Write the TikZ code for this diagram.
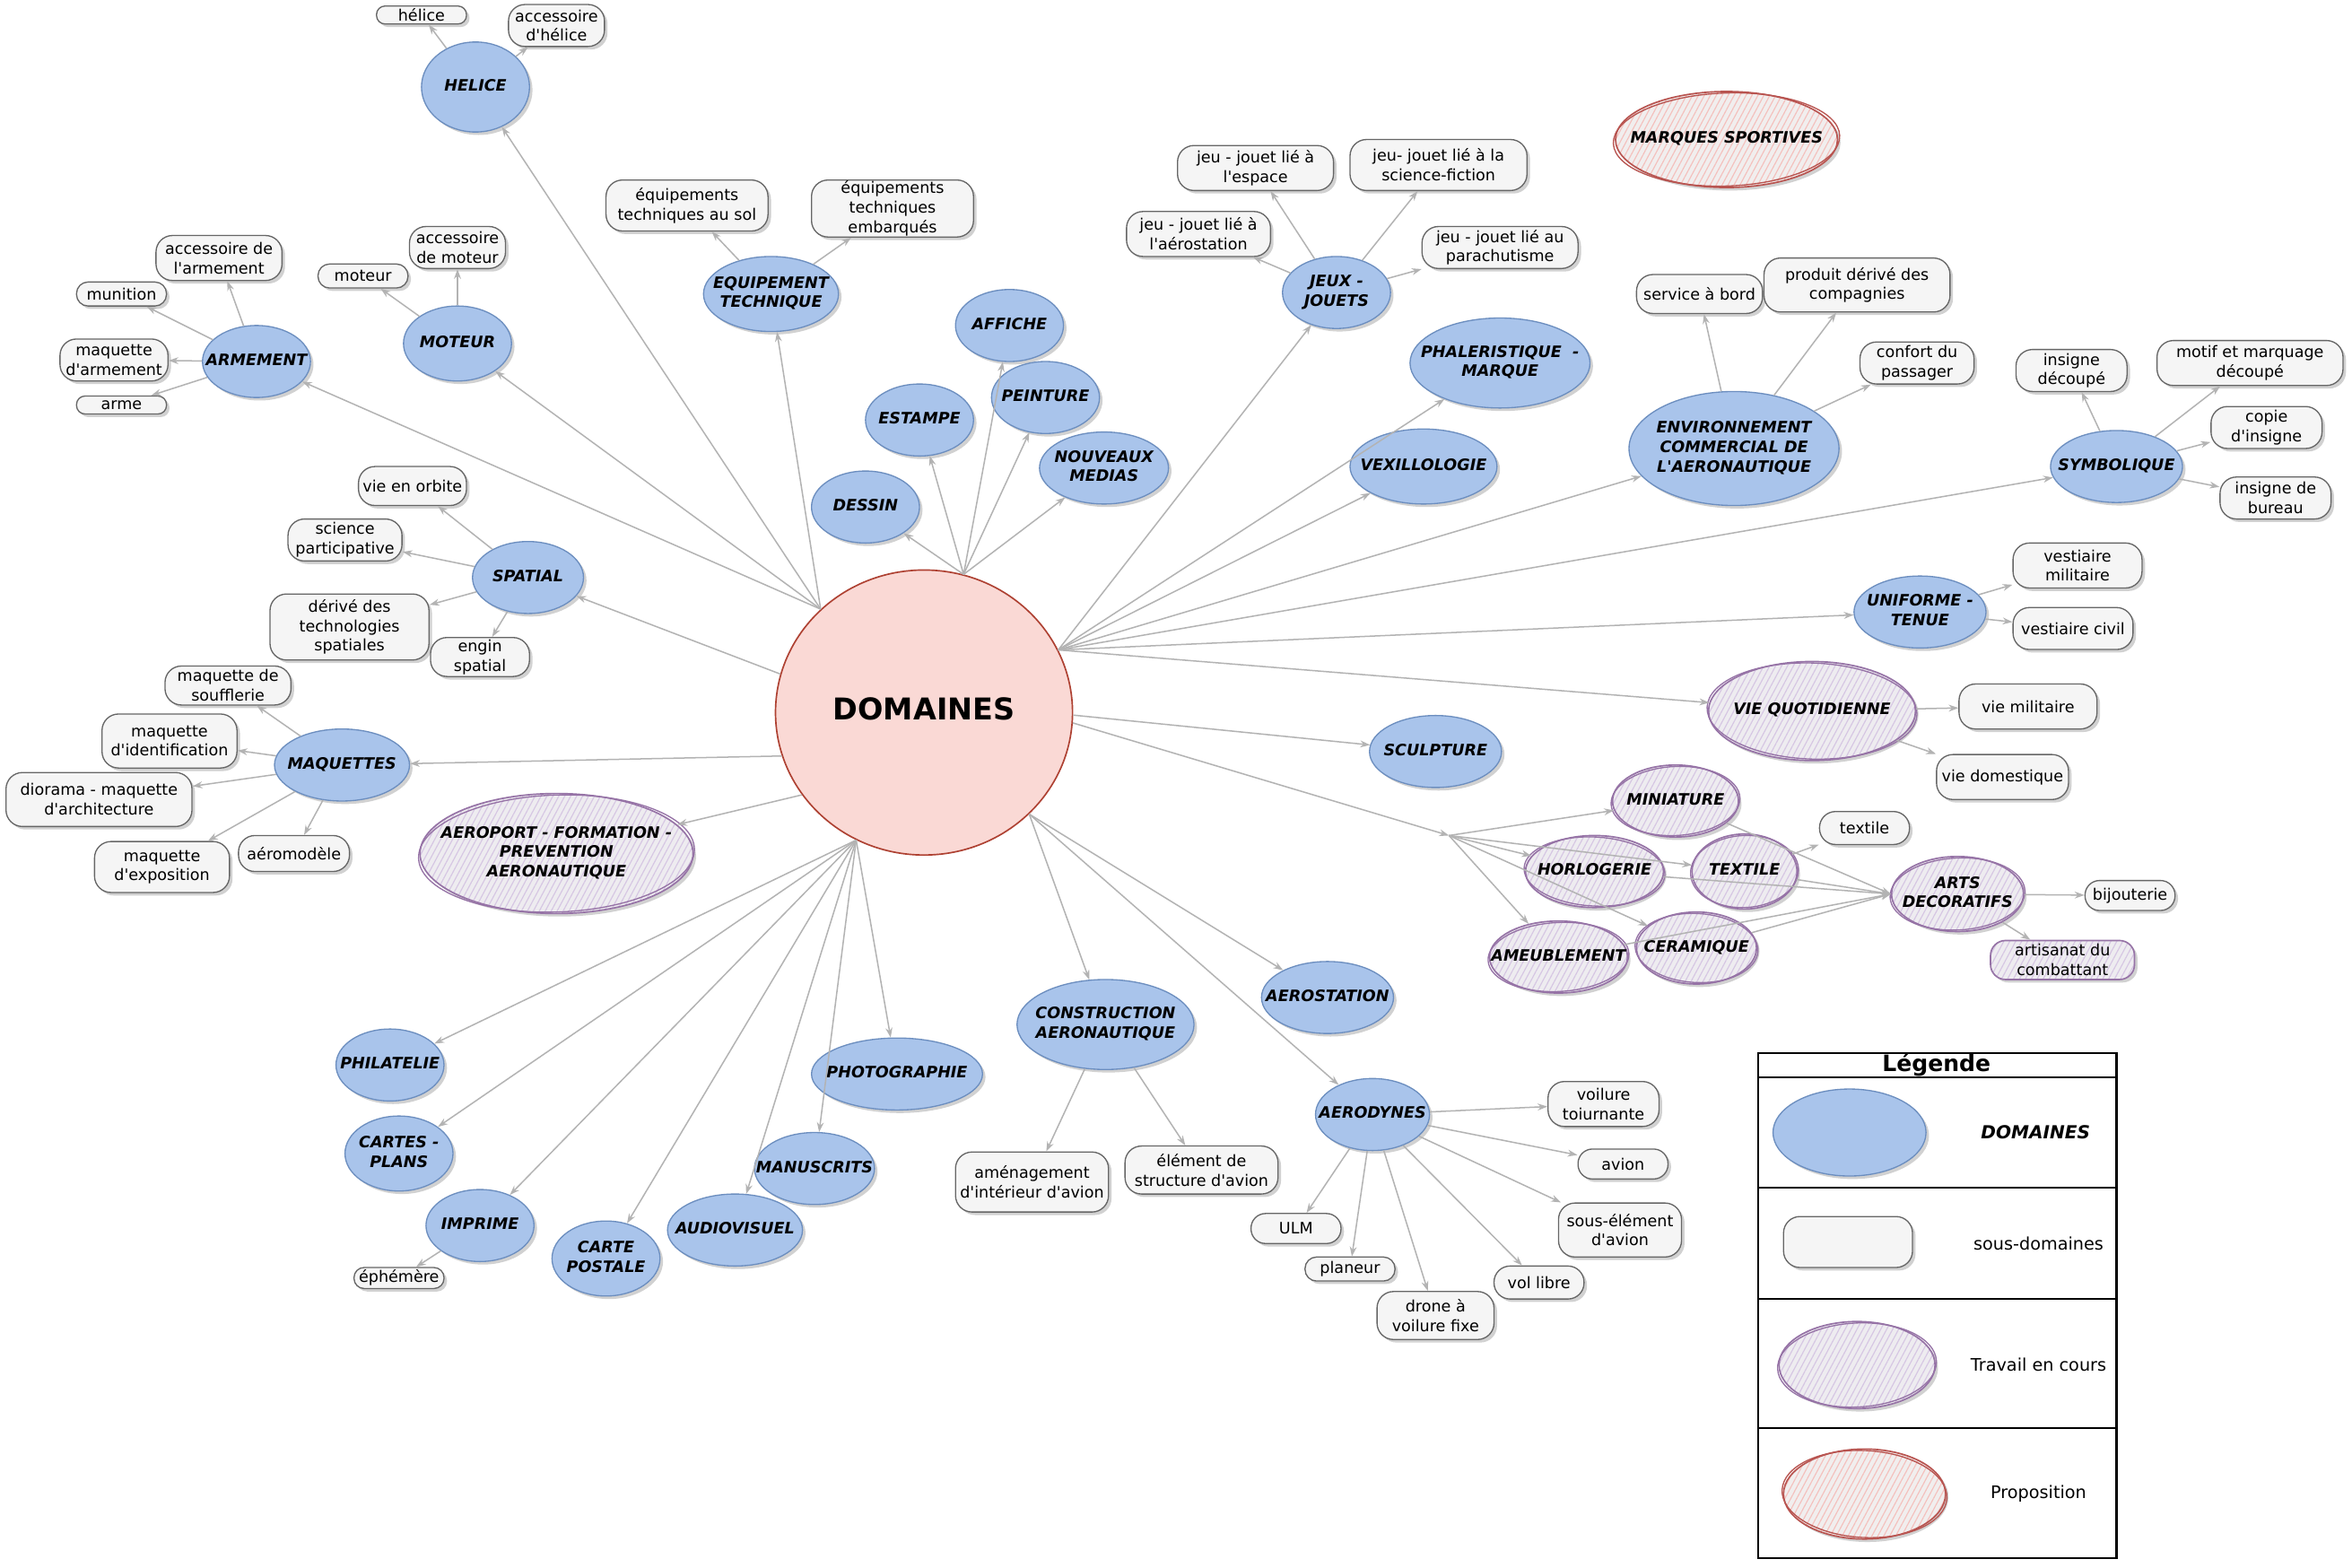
\documentclass[tikz,border=0pt]{standalone}
\usepackage{fontspec}
\setmainfont{DejaVu Sans}[Ligatures=TeXOff]
\usetikzlibrary{shapes.geometric, arrows.meta, shadows, patterns.meta}
\definecolor{domfill}{HTML}{A9C4EB}
\definecolor{domline}{HTML}{6C8EBF}
\definecolor{subfill}{HTML}{F5F5F5}
\definecolor{subline}{HTML}{666666}
\definecolor{cfill}{HTML}{FAD9D5}
\definecolor{cline}{HTML}{AE4132}
\definecolor{wipline}{HTML}{9673A6}
\definecolor{wiphatch}{HTML}{D6C6E3}
\definecolor{wipbg}{HTML}{EEECF0}
\definecolor{propline}{HTML}{B85450}
\definecolor{prophatch}{HTML}{F4C0BD}
\definecolor{propbg}{HTML}{F1EEEE}
\definecolor{connc}{HTML}{B3B3B3}
\newcommand\sketchring[5]{\draw[#5, line width=0.8pt] (#1.center) ellipse [x radius=#2, y radius=#3, rotate=#4];}
\newcommand\zt[1]{\makebox[0pt]{\begin{tabular}{@{}c@{}}#1\end{tabular}}}
\begin{document}
\begin{tikzpicture}[x=1pt,y=-1pt,
 shad/.style={drop shadow={shadow xshift=2pt,shadow yshift=-2pt,opacity=0.18,fill=black}},
 txt/.style={font=\fontsize{10.5}{13}\selectfont, align=center, inner sep=0pt, text=black},
 btxt/.style={font=\fontsize{10.5}{13}\selectfont\bfseries\itshape, inner sep=0pt, text=black},
 dom/.style 2 args={btxt, ellipse, shad, draw=domline, fill=domfill, line width=0.8pt, minimum width=#1pt, minimum height=#2pt},
 sub/.style 2 args={txt, rectangle, shad, draw=subline, fill=subfill, line width=0.8pt, minimum width=#1pt, minimum height=#2pt, /utils/exec={\pgfmathsetlengthmacro\rc{min(#2/2-0.3,11)}}, rounded corners=\rc},
 wip/.style 2 args={btxt, ellipse, shad, preaction={fill=wipbg}, pattern={Lines[angle=62,distance=3.5pt,line width=0.7pt]}, pattern color=wiphatch, draw=wipline, line width=1pt, minimum width=#1pt, minimum height=#2pt},
 prop/.style 2 args={btxt, ellipse, shad, preaction={fill=propbg}, pattern={Lines[angle=62,distance=3.5pt,line width=0.7pt]}, pattern color=prophatch, draw=propline, line width=1pt, minimum width=#1pt, minimum height=#2pt},
 wiprect/.style 2 args={txt, rectangle, rounded corners=10pt, shad, preaction={fill=wipbg}, pattern={Lines[angle=62,distance=3.5pt,line width=0.7pt]}, pattern color=wiphatch, draw=wipline, line width=1pt, minimum width=#1pt, minimum height=#2pt},
 center/.style={ellipse, draw=cline, fill=cfill, line width=1pt, minimum width=198pt, minimum height=190pt, font=\fontsize{20}{24}\selectfont\bfseries, inner sep=0pt},
 conn/.style={draw=connc, line width=0.9pt, -{Stealth[length=6.5pt,width=4.6pt]}},
 legline/.style={draw=black, line width=1.2pt},
 legtxt/.style={font=\fontsize{11.5}{14}\selectfont, inner sep=0pt}
]
\path[use as bounding box, fill=white] (0,0) rectangle (1568,1045);

% ---------- centre ----------
\node[center] (dom) at (616,475) {\zt{DOMAINES}};

% ---------- domains ----------
\node[dom={72}{60}] (helice) at (317,58) {\zt{HELICE}};
\node[dom={72}{48}] (armement) at (171,241) {\zt{ARMEMENT}};
\node[dom={72}{50}] (moteur) at (305,229) {\zt{MOTEUR}};
\node[dom={90}{50}] (equip) at (514,196) {\zt{EQUIPEMENT\\TECHNIQUE}};
\node[dom={72}{48}] (affiche) at (673,217) {\zt{AFFICHE}};
\node[dom={72}{48}] (peinture) at (697,265) {\zt{PEINTURE}};
\node[dom={72}{48}] (estampe) at (613,280) {\zt{ESTAMPE}};
\node[dom={86}{48}] (nouveaux) at (736,312) {\zt{NOUVEAUX\\MEDIAS}};
\node[dom={72}{48}] (dessin) at (577,338) {\zt{DESSIN}};
\node[dom={72}{48}] (jeux) at (891,195) {\zt{JEUX -\\JOUETS}};
\node[dom={120}{60}] (phaler) at (1000,242) {\zt{PHALERISTIQUE~ -\\MARQUE}};
\node[dom={98}{50}] (vexil) at (949,311) {\zt{VEXILLOLOGIE}};
\node[dom={140}{76}] (envir) at (1156,299) {\zt{ENVIRONNEMENT\\COMMERCIAL DE\\L'AERONAUTIQUE}};
\node[dom={88}{48}] (symbol) at (1411,311) {\zt{SYMBOLIQUE}};
\node[dom={88}{48}] (uniforme) at (1280,408) {\zt{UNIFORME -\\TENUE}};
\node[dom={88}{48}] (sculpt) at (957,501) {\zt{SCULPTURE}};
\node[dom={74}{48}] (spatial) at (352,385) {\zt{SPATIAL}};
\node[dom={90}{48}] (maquettes) at (228,510) {\zt{MAQUETTES}};
\node[dom={88}{48}] (aerost) at (885,665) {\zt{AEROSTATION}};
\node[dom={118}{60}] (constr) at (737,683) {\zt{CONSTRUCTION\\AERONAUTIQUE}};
\node[dom={76}{48}] (aerodyn) at (915,743) {\zt{AERODYNES}};
\node[dom={72}{48}] (philat) at (260,710) {\zt{PHILATELIE}};
\node[dom={72}{50}] (cartes) at (266,769) {\zt{CARTES -\\PLANS}};
\node[dom={114}{48}] (photo) at (598,716) {\zt{PHOTOGRAPHIE}};
\node[dom={80}{48}] (manus) at (543,779) {\zt{MANUSCRITS}};
\node[dom={72}{48}] (imprime) at (320,817) {\zt{IMPRIME}};
\node[dom={72}{50}] (cpostale) at (404,839) {\zt{CARTE\\POSTALE}};
\node[dom={90}{48}] (audio) at (490,820) {\zt{AUDIOVISUEL}};

% ---------- work in progress / proposal ----------
\node[prop={148}{64}] (marques) at (1151,93) {\zt{MARQUES SPORTIVES}};
\sketchring{marques}{75.5}{31}{2}{propline}
\node[wip={138}{66}] (vieq) at (1208,474) {\zt{VIE QUOTIDIENNE}};
\sketchring{vieq}{70}{32}{-2}{wipline}
\node[wip={182}{80}] (aeroport) at (371,569) {\zt{AEROPORT - FORMATION -\\PREVENTION\\AERONAUTIQUE}};
\sketchring{aeroport}{92}{39}{2}{wipline}
\node[wip={84}{48}] (mini) at (1117,534) {\zt{MINIATURE}};
\sketchring{mini}{43}{23}{3}{wipline}
\node[wip={92}{48}] (horlo) at (1063,581) {\zt{HORLOGERIE}};
\sketchring{horlo}{47}{23}{-3}{wipline}
\node[wip={70}{50}] (textile) at (1163,581) {\zt{TEXTILE}};
\sketchring{textile}{36}{24}{3}{wipline}
\node[wip={92}{48}] (ameub) at (1039,638) {\zt{AMEUBLEMENT}};
\sketchring{ameub}{47}{23}{3}{wipline}
\node[wip={80}{48}] (ceram) at (1131,632) {\zt{CERAMIQUE}};
\sketchring{ceram}{41}{23}{-3}{wipline}
\node[wip={88}{50}] (arts) at (1305,596) {\zt{ARTS\\DECORATIFS}};
\sketchring{arts}{45}{24}{3}{wipline}
\coordinate (jct) at (966,557);

% ---------- sub-domains ----------
\node[sub={60}{12}] (s-helice) at (281,10) {hélice};
\node[sub={64}{28}] (s-acchel) at (371,17) {accessoire\\d'hélice};
\node[sub={84}{30}] (s-accarm) at (146,172) {accessoire de\\l'armement};
\node[sub={60}{16}] (s-munition) at (81,196) {munition};
\node[sub={72}{28}] (s-maqarm) at (76,240) {maquette\\d'armement};
\node[sub={60}{12}] (s-arme) at (81,270) {arme};
\node[sub={60}{16}] (s-moteur) at (242,184) {moteur};
\node[sub={64}{28}] (s-accmot) at (305,165) {accessoire\\de moteur};
\node[sub={108}{34}] (s-eqsol) at (458,137) {équipements\\techniques au sol};
\node[sub={108}{38}] (s-eqemb) at (595,139) {équipements\\techniques\\embarqués};
\node[sub={104}{30}] (s-jespace) at (837,112) {jeu - jouet lié à\\l'espace};
\node[sub={118}{34}] (s-jsf) at (959,110) {jeu- jouet lié à la\\science-fiction};
\node[sub={96}{30}] (s-jaero) at (799,156) {jeu - jouet lié à\\l'aérostation};
\node[sub={104}{28}] (s-jpara) at (1000,165) {jeu - jouet lié au\\parachutisme};
\node[sub={84}{26}] (s-service) at (1133,196) {service à bord};
\node[sub={124}{36}] (s-produit) at (1238,190) {produit dérivé des\\compagnies};
\node[sub={76}{28}] (s-confort) at (1278,242) {confort du\\passager};
\node[sub={74}{28}] (s-insigne) at (1381,247) {insigne\\découpé};
\node[sub={124}{30}] (s-motif) at (1500,242) {motif et marquage\\découpé};
\node[sub={74}{28}] (s-copie) at (1511,285) {copie\\d'insigne};
\node[sub={74}{28}] (s-bureau) at (1517,332) {insigne de\\bureau};
\node[sub={86}{30}] (s-vestmil) at (1385,377) {vestiaire\\militaire};
\node[sub={80}{28}] (s-vestciv) at (1382,419) {vestiaire civil};
\node[sub={92}{30}] (s-viemil) at (1352,471) {vie militaire};
\node[sub={88}{30}] (s-viedom) at (1335,518) {vie domestique};
\node[sub={60}{22}] (s-textile) at (1243,552) {textile};
\node[sub={60}{20}] (s-bijou) at (1420,597) {bijouterie};
\node[wiprect={96}{26}] (s-artisanat) at (1375,640) {artisanat du\\combattant};
\node[sub={72}{26}] (s-orbite) at (275,324) {vie en orbite};
\node[sub={76}{28}] (s-science) at (230,360) {science\\participative};
\node[sub={106}{44}] (s-derive) at (233,418) {dérivé des\\technologies\\spatiales};
\node[sub={66}{26}] (s-engin) at (320,438) {engin\\spatial};
\node[sub={84}{26}] (s-souffl) at (152,457) {maquette de\\soufflerie};
\node[sub={90}{36}] (s-ident) at (113,494) {maquette\\d'identification};
\node[sub={124}{36}] (s-diorama) at (66,533) {diorama - maquette\\d'architecture};
\node[sub={90}{34}] (s-expo) at (108,578) {maquette\\d'exposition};
\node[sub={74}{24}] (s-aeromod) at (196,569) {aéromodèle};
\node[sub={102}{40}] (s-amenag) at (688,788) {aménagement\\d'intérieur d'avion};
\node[sub={102}{32}] (s-element) at (801,780) {élément de\\structure d'avion};
\node[sub={60}{14}] (s-ephem) at (266,852) {éphémère};
\node[sub={74}{30}] (s-voilure) at (1069,736) {voilure\\toiurnante};
\node[sub={60}{20}] (s-avion) at (1082,776) {avion};
\node[sub={82}{36}] (s-sousel) at (1080,820) {sous-élément\\d'avion};
\node[sub={60}{20}] (s-ulm) at (864,819) {ULM};
\node[sub={60}{16}] (s-planeur) at (900,846) {planeur};
\node[sub={60}{22}] (s-vollibre) at (1026,855) {vol libre};
\node[sub={78}{32}] (s-drone) at (957,877) {drone à\\voilure fixe};

% ---------- connectors from DOMAINES ----------
\foreach \t in {helice,armement,moteur,equip} \draw[conn] (dom.135) -- (\t);
\foreach \t in {dessin,estampe,affiche,peinture,nouveaux} \draw[conn] (dom.74) -- (\t);
\foreach \t in {jeux,phaler,vexil,envir,symbol,uniforme,vieq} \draw[conn] (dom.25) -- (\t);
\draw[conn] (dom.165) -- (spatial);
\draw[conn] (dom.197) -- (maquettes);
\draw[conn] (dom.214) -- (aeroport);
\draw[conn] (dom.359) -- (sculpt);
\draw[conn] (dom.356) -- (jct);
\foreach \t in {philat,cartes,imprime,cpostale,audio,manus,photo} \draw[conn] (dom.242) -- (\t);
\foreach \t in {constr,aerost,aerodyn} \draw[conn] (dom.316) -- (\t);

% ---------- arts group ----------
\foreach \t in {mini,horlo,textile,ameub,ceram} \draw[conn] (jct) -- (\t);
\foreach \t in {mini,horlo,textile,ameub,ceram} \draw[conn] (\t) -- (arts.west);

% ---------- connectors to sub-domains ----------
\foreach \t in {s-helice,s-acchel} \draw[conn] (helice) -- (\t);
\foreach \t in {s-accarm,s-munition,s-maqarm,s-arme} \draw[conn] (armement) -- (\t);
\foreach \t in {s-moteur,s-accmot} \draw[conn] (moteur) -- (\t);
\foreach \t in {s-eqsol,s-eqemb} \draw[conn] (equip) -- (\t);
\foreach \t in {s-jespace,s-jsf,s-jaero,s-jpara} \draw[conn] (jeux) -- (\t);
\foreach \t in {s-service,s-produit,s-confort} \draw[conn] (envir) -- (\t);
\foreach \t in {s-insigne,s-motif,s-copie,s-bureau} \draw[conn] (symbol) -- (\t);
\foreach \t in {s-vestmil,s-vestciv} \draw[conn] (uniforme) -- (\t);
\foreach \t in {s-viemil,s-viedom} \draw[conn] (vieq) -- (\t);
\draw[conn] (textile) -- (s-textile);
\foreach \t in {s-bijou,s-artisanat} \draw[conn] (arts) -- (\t);
\foreach \t in {s-orbite,s-science,s-derive,s-engin} \draw[conn] (spatial) -- (\t);
\foreach \t in {s-souffl,s-ident,s-diorama,s-expo,s-aeromod} \draw[conn] (maquettes) -- (\t);
\foreach \t in {s-amenag,s-element} \draw[conn] (constr) -- (\t);
\draw[conn] (imprime) -- (s-ephem);
\foreach \t in {s-voilure,s-avion,s-sousel,s-ulm,s-planeur,s-vollibre,s-drone} \draw[conn] (aerodyn) -- (\t);

% ---------- legend ----------
\draw[legline] (1172,702) rectangle (1411,1039);
\draw[legline] (1172,718) -- (1411,718);
\draw[legline] (1172,792) -- (1411,792);
\draw[legline] (1172,866) -- (1411,866);
\draw[legline] (1172,952) -- (1411,952);
\node[font=\fontsize{15}{18}\selectfont\bfseries, inner sep=0pt] (lg-title) at (1291,710) {Légende};
\node[dom={102}{58}] (lg-dom) at (1233,755) {};
\node[legtxt, font=\fontsize{12}{14}\selectfont\bfseries\itshape] (lg-dom-t) at (1357,755) {DOMAINES};
\node[sub={86}{34}] (lg-sub) at (1232,828) {};
\node[legtxt] (lg-sub-t) at (1359,829) {sous-domaines};
\node[wip={104}{58}] (lg-wip) at (1238,910) {};
\sketchring{lg-wip}{53}{28}{3}{wipline}
\node[legtxt] (lg-wip-t) at (1359,910) {Travail en cours};
\node[prop={108}{60}] (lg-prop) at (1243,996) {};
\sketchring{lg-prop}{55}{29}{-3}{propline}
\node[legtxt] (lg-prop-t) at (1359,996) {Proposition};
\end{tikzpicture}
\end{document}
